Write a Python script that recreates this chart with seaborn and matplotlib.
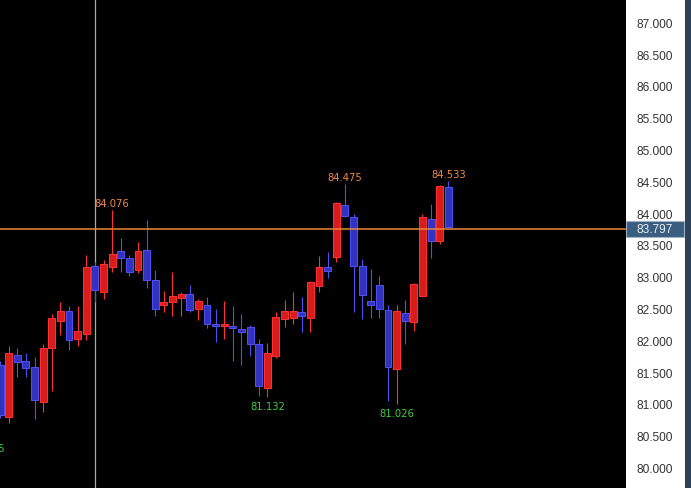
import numpy as np
import pandas as pd
import matplotlib
matplotlib.use("Agg")
import matplotlib.pyplot as plt
from matplotlib.patches import Rectangle
import seaborn as sns

# ---- data ----
opens = [81.63, 80.82, 81.79, 81.69, 81.61, 81.06, 81.90, 82.32, 82.48, 82.04,
         82.12, 83.19, 82.79, 83.17, 83.42, 83.32, 83.13, 83.45, 82.97, 82.57,
         82.63, 82.69, 82.75, 82.52, 82.57, 82.28, 82.24, 82.25, 82.20, 82.23,
         81.97, 81.27, 81.78, 82.36, 82.37, 82.47, 82.37, 82.87, 83.18, 83.34,
         84.15, 83.96, 83.19, 82.64, 82.89, 82.50, 81.57, 82.45, 82.31, 82.72,
         83.93, 83.58, 84.43]
highs = [81.70, 81.94, 81.90, 81.82, 81.76, 81.96, 82.43, 82.63, 82.56, 82.56,
         83.36, 83.25, 83.29, 84.076, 83.63, 83.36, 83.57, 83.92, 83.13, 82.80,
         83.09, 82.79, 82.90, 82.68, 82.71, 82.52, 82.64, 82.56, 82.44, 82.26,
         82.04, 81.98, 82.47, 82.65, 82.78, 82.70, 82.95, 83.35, 83.41, 84.20,
         84.475, 84.01, 83.30, 83.14, 83.04, 82.58, 82.58, 82.65, 82.93, 84.01,
         84.17, 84.47, 84.533]
lows = [80.80, 80.73, 81.44, 81.44, 80.79, 80.89, 81.22, 82.10, 81.87, 81.94,
        82.03, 82.63, 82.67, 83.10, 83.09, 83.03, 83.08, 82.84, 82.40, 82.47,
        82.41, 82.41, 82.47, 82.34, 82.21, 82.00, 82.04, 81.70, 81.64, 81.78,
        81.14, 81.132, 81.75, 82.23, 82.28, 82.15, 82.15, 82.78, 83.01, 83.25,
        83.96, 82.46, 82.36, 82.38, 82.37, 81.07, 81.026, 81.97, 82.17, 82.70,
        83.32, 83.54, 83.797]
closes = [80.85, 81.83, 81.68, 81.59, 81.09, 81.90, 82.37, 82.49, 82.02, 82.17,
          83.18, 82.81, 83.22, 83.38, 83.32, 83.10, 83.43, 82.97, 82.52, 82.63,
          82.72, 82.75, 82.50, 82.64, 82.28, 82.25, 82.28, 82.21, 82.16, 81.97,
          81.31, 81.83, 82.39, 82.48, 82.49, 82.41, 82.94, 83.17, 83.11, 84.18,
          83.98, 83.19, 82.74, 82.57, 82.52, 81.60, 82.49, 82.32, 82.91, 83.96,
          83.59, 84.45, 83.797]

high_marks = [(13, "84.076"), (40, "84.475"), (52, "84.533")]
low_marks = [(31, "81.132"), (46, "81.026"), (-1.45, "80.485")]
current_price = 83.797
cursor_index = 11
price_ticks = [80.0, 80.5, 81.0, 81.5, 82.0, 82.5, 83.0, 83.5, 84.0, 84.5,
               85.0, 85.5, 86.0, 86.5, 87.0]

df = pd.DataFrame({"open": opens, "high": highs, "low": lows, "close": closes})
df["x"] = np.arange(len(df))
df["up"] = df["close"] >= df["open"]

# ---- style ----
sns.set_style("dark", {"axes.facecolor": "black", "figure.facecolor": "#2d4258"})
plt.rcParams["font.family"] = ["Liberation Sans", "DejaVu Sans"]

W, H = 691, 489
fig = plt.figure(figsize=(W / 100, H / 100), dpi=100)
fig.patch.set_facecolor("#2d4258")

plot_right = 626
ax = fig.add_axes([0, 0, plot_right / W, 1])
ax.set_facecolor("black")
ylo, yhi = 79.70, 87.39
ax.set_ylim(ylo, yhi)
ax.set_xlim(-0.01, 72.61)
for s in ax.spines.values():
    s.set_visible(False)
ax.set_xticks([])
ax.set_yticks([])

RED_FILL, RED_EDGE = "#d81c1c", "#ff3030"
BLUE_FILL, BLUE_EDGE = "#3232c0", "#5050f0"
bw = 0.8
lw_px = 72 / 100

for _, r in df.iterrows():
    fill = RED_FILL if r.up else BLUE_FILL
    edge = RED_EDGE if r.up else BLUE_EDGE
    ax.vlines(r.x, r.low, r.high, color=edge, lw=lw_px * 1.1, zorder=2)
    lo = min(r.open, r.close)
    h = max(abs(r.close - r.open), 0.035)
    ax.add_patch(Rectangle((r.x - bw / 2, lo), bw, h, facecolor=fill,
                           edgecolor=edge, lw=lw_px, zorder=3))

# current price line and cursor
ax.axhline(current_price - 0.02, color="#e8883a", lw=1.1, zorder=4)
ax.axvline(cursor_index, color="#a8a8a8", lw=0.9, zorder=1)

label_font = dict(fontsize=7.2, family=["Liberation Sans Narrow", "DejaVu Sans"])
for i, txt in high_marks:
    ax.text(i, float(txt) + 0.03, txt, color="#ee8a48", ha="center",
            va="bottom", **label_font)
for i, txt in low_marks:
    ax.text(i, float(txt) - 0.07, txt, color="#3fcf3f", ha="center",
            va="top", clip_on=True, **label_font)

# ---- right price panel ----
pax = fig.add_axes([plot_right / W, 0, 59 / W, 1])
pax.set_facecolor("white")
pax.set_ylim(ylo, yhi)
pax.set_xlim(0, 1)
pax.set_xticks([])
pax.set_yticks([])
for s in pax.spines.values():
    s.set_visible(False)
for p in price_ticks:
    pax.text(0.49, p, f"{p:.3f}", ha="center", va="center", fontsize=8.6,
             color="#333333")
# current price box
ppu = H / (yhi - ylo)
bh = 16 / ppu
pax.add_patch(Rectangle((0.0, current_price - 0.02 - bh / 2), 0.98, bh,
                        facecolor="#3b5d7e", edgecolor="#9fb3c8", lw=0.8,
                        zorder=5))
pax.text(0.49, current_price - 0.02, f"{current_price:.3f}", ha="center",
         va="center", fontsize=8.6, color="#e6eef6", zorder=6)

fig.savefig("out.png", dpi=100, facecolor=fig.get_facecolor())
